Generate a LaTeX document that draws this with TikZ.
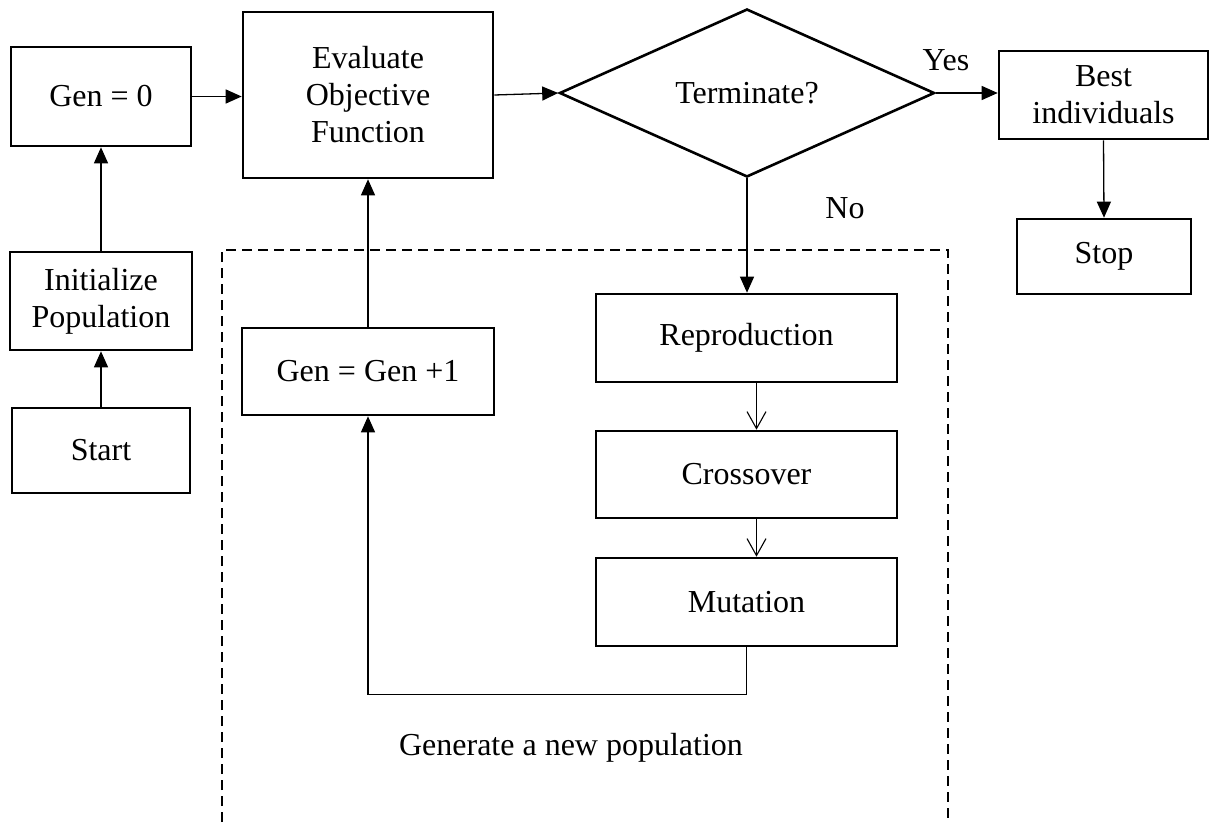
\documentclass[tikz,border=0pt]{standalone}
\usepackage{fontspec}
\setmainfont{Liberation Serif}
\usetikzlibrary{arrows.meta,shapes.geometric}
\begin{document}
\begin{tikzpicture}[x=1pt,y=-1pt,
  every node/.style={font=\fontsize{32}{37}\selectfont, align=center},
  box/.style={draw, line width=2.6pt, rectangle, inner sep=0pt},
  decision/.style={draw, line width=2.6pt, diamond, inner sep=0pt},
  flow/.style={line width=1.3pt, -{Triangle[length=16pt,width=14pt]}},
  openflow/.style={line width=1.1pt, -{Straight Barb[length=17pt,width=19pt,line width=1.1pt]}},
  group/.style={line width=2.6pt, dash pattern=on 10pt off 6pt}]
\useasboundingbox (0,0) rectangle (1210,822);

% left column
\node[box, minimum width=180pt, minimum height=99pt] (g0) at (101,96.5) {Gen = 0};
\node[box, minimum width=182pt, minimum height=98pt] (init) at (101,301) {Initialize\\Population};
\node[box, minimum width=178pt, minimum height=85pt] (start) at (101,450.5) {Start};

% main loop
\node[box, minimum width=250pt, minimum height=166pt] (eval) at (368,95) {Evaluate\\Objective\\Function};
\node[decision, minimum width=375pt, minimum height=168pt] (term) at (747,93) {Terminate?};
\node[box, minimum width=209pt, minimum height=88pt] (best) at (1103.5,95) {Best\\individuals};
\node[box, minimum width=174pt, minimum height=75pt] (stop) at (1104,256.5) {Stop};

% new population block
\node[box, minimum width=252pt, minimum height=87pt] (gen1) at (368,371.5) {Gen = Gen +1};
\node[box, minimum width=301pt, minimum height=88pt] (repro) at (746.5,338) {Reproduction};
\node[box, minimum width=301pt, minimum height=87pt] (cross) at (746.5,474.5) {Crossover};
\node[box, minimum width=301pt, minimum height=88pt] (mut) at (746.5,602) {Mutation};

\draw[group] (222,822) -- (222,250) -- (948,250) -- (948,822);

\node (yes) at (946,60) {Yes};
\node (no) at (845,208) {No};
\node (newpop) at (571,748) {Generate a new population};

% connectors
\draw[flow] (start.north) -- (init.south);
\draw[flow] (init.north) -- (g0.south);
\draw[flow] (g0.east) -- (g0.east -| eval.west);
\draw[flow] (eval.east) -- (term.west);
\draw[flow] (term.east) -- (term.east -| best.west);
\draw[flow] (best.south) -- (stop.north);
\draw[flow] (term.south) -- (term.south |- repro.north);
\draw[openflow] ([xshift=10pt]repro.south) -- ([xshift=10pt]cross.north);
\draw[openflow] ([xshift=10pt]cross.south) -- ([xshift=10pt]mut.north);
\draw[flow] (mut.south) -- ++(0,47) -| (gen1.south);
\draw[flow] (gen1.north) -- (eval.south);
\end{tikzpicture}
\end{document}
